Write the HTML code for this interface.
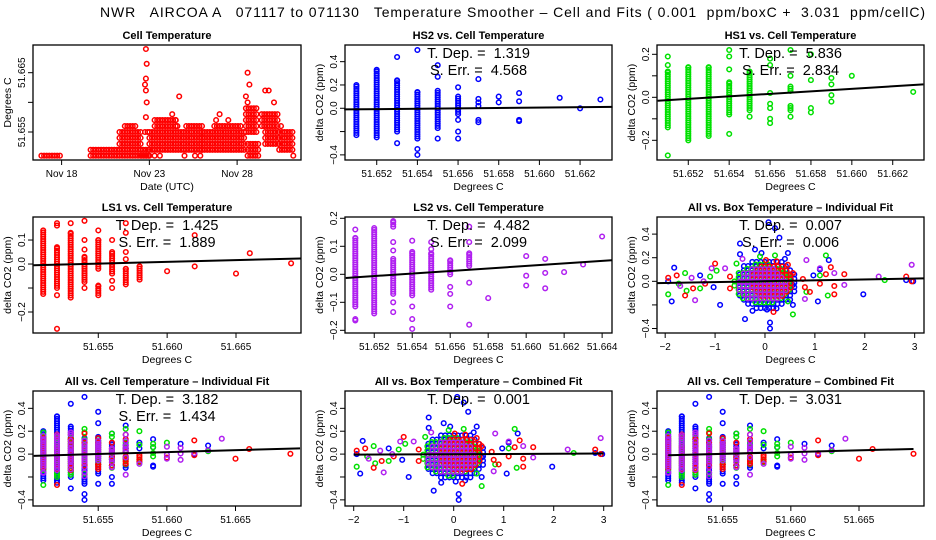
<!DOCTYPE html>
<html><head><meta charset="utf-8"><style>
body{margin:0;background:#fff;}
svg{display:block;font-family:"Liberation Sans",sans-serif;}
</style></head><body>
<svg id="chart" width="936" height="540" viewBox="0 0 936 540">
<rect width="936" height="540" fill="#fff"/>
<text x="100" y="17" font-size="14" textLength="825" lengthAdjust="spacing" style="white-space:pre">NWR   AIRCOA A   071117 to 071130   Temperature Smoother – Cell and Fits ( 0.001  ppm/boxC +  3.031  ppm/cellC)</text>
</svg>
<script>
// ---- Cell temperature data (days from Nov 18, value in deg C) ----
const cellRuns = [[-1.15,0,51.651,51.651],[1.65,5.0,51.651,51.652],[3.3,4.5,51.653,51.655],[3.6,4.3,51.656,51.656],[4.55,5.0,51.651,51.651],[5.0,8.1,51.652,51.655],[5.3,6.5,51.656,51.657],[7.1,8.0,51.656,51.656],[8.0,10.5,51.652,51.655],[8.7,10.3,51.656,51.656],[10.5,11.2,51.655,51.659],[10.6,11.3,51.651,51.653],[11.4,12.4,51.656,51.658],[11.6,12.4,51.653,51.655],[12.4,13.2,51.652,51.655]];
const cellPoints = [[4.8,51.669],[4.85,51.6665],[4.8,51.664],[4.75,51.663],[4.8,51.662],[4.85,51.660],[4.8,51.6575],[4.75,51.655],[4.9,51.655],[6.7,51.661],[6.3,51.658],[6.5,51.657],[6.6,51.656],[9.0,51.658],[9.5,51.657],[8.8,51.657],[10.6,51.665],[10.7,51.663],[10.5,51.661],[10.6,51.660],[11.6,51.662],[11.8,51.662],[12.1,51.660],[12.5,51.656],[5.3,51.651],[5.6,51.651],[7.0,51.651],[7.6,51.651],[7.9,51.651],[13.2,51.651]];
const cellTicks = [0,5,10];
const cellTickLabels = ["Nov 18","Nov 23","Nov 28"];
// ---- Sensor vs cell temperature columns: [x, lo, hi] dense ranges and [x, y] points ----
const hs2Ranges = [[51.651,-0.23,0.2],[51.652,-0.25,0.33],[51.653,-0.2,0.24],[51.654,-0.26,0.14],[51.655,-0.17,0.15],[51.656,-0.05,0.1]];
const hs2Points = [[51.653,-0.3],[51.653,0.44],[51.654,-0.35],[51.654,-0.4],[51.654,0.5],[51.655,0.37],[51.655,0.27],[51.655,-0.26],[51.656,0.18],[51.656,-0.1],[51.656,-0.2],[51.656,-0.26],[51.657,0.25],[51.657,0.08],[51.657,0.05],[51.657,0.02],[51.657,-0.1],[51.657,-0.12],[51.658,0.1],[51.658,0.05],[51.659,0.13],[51.659,0.06],[51.659,-0.1],[51.659,-0.11],[51.661,0.09],[51.662,0.0],[51.663,0.075]];
const hs1Ranges = [[51.651,-0.14,0.12],[51.652,-0.2,0.14],[51.653,-0.18,0.14],[51.654,-0.08,0.07],[51.655,-0.06,0.12],[51.657,-0.06,-0.04],[51.657,0.03,0.05]];
const hs1Points = [[51.651,0.15],[51.651,0.19],[51.651,-0.27],[51.654,-0.17],[51.654,0.13],[51.654,0.19],[51.654,0.22],[51.655,-0.09],[51.656,-0.12],[51.656,-0.1],[51.656,-0.05],[51.656,-0.03],[51.656,0.02],[51.656,0.15],[51.656,0.18],[51.657,-0.09],[51.657,0.1],[51.657,0.22],[51.658,-0.07],[51.658,-0.05],[51.658,0.08],[51.658,0.2],[51.659,-0.02],[51.659,0.01],[51.659,0.06],[51.659,0.09],[51.660,0.1],[51.663,0.025]];
const ls1Ranges = [[51.651,-0.125,0.14],[51.652,-0.1,0.07],[51.653,-0.14,0.13],[51.654,-0.075,0.03],[51.655,-0.13,-0.09],[51.655,-0.02,0.1],[51.656,-0.04,0.05],[51.657,-0.085,-0.02],[51.658,-0.065,-0.01]];
const ls1Points = [[51.652,-0.13],[51.652,0.16],[51.652,0.17],[51.652,-0.27],[51.653,0.17],[51.654,-0.1],[51.654,0.1],[51.654,0.06],[51.654,0.18],[51.655,0.14],[51.656,-0.1],[51.656,-0.07],[51.656,0.1],[51.657,0.02],[51.657,0.05],[51.657,0.13],[51.657,0.17],[51.660,-0.03],[51.662,-0.01],[51.662,0.12],[51.665,-0.04],[51.666,0.045],[51.669,0.003]];
const ls2Ranges = [[51.651,-0.115,0.13],[51.652,-0.14,0.165],[51.653,-0.07,0.055],[51.654,-0.075,0.08],[51.655,-0.055,0.075],[51.656,0,0.05],[51.657,0.03,0.075],[51.653,0.17,0.19]];
const ls2Points = [[51.651,-0.165],[51.651,-0.16],[51.651,0.16],[51.653,-0.135],[51.653,-0.1],[51.653,0.085],[51.653,0.115],[51.654,-0.195],[51.654,-0.16],[51.654,-0.115],[51.654,0.12],[51.655,0.09],[51.655,0.115],[51.656,-0.115],[51.656,-0.07],[51.656,-0.045],[51.657,-0.18],[51.657,-0.03],[51.657,0.115],[51.657,0.17],[51.658,-0.085],[51.660,-0.04],[51.660,-0.005],[51.660,0.065],[51.661,-0.05],[51.661,0.005],[51.661,0.055],[51.662,0.008],[51.663,0.035],[51.664,0.135]];
// ---- Box temperature: clouds [cx, cy, rx, ry] and points [x, y] ----
const boxBlueCloud = [0.03,-0.02,0.62,0.22];
const boxGreenCloud = [-0.05,-0.02,0.58,0.17];
const boxRedCloud = [0.15,0.0,0.45,0.15];
const boxPurpleCloud = [-0.05,-0.03,0.5,0.15];
const boxBluePoints = [[-1.94,0.0],[-1.82,0.115],[-1.87,-0.17],[-0.9,-0.2],[-0.4,-0.32],[-0.5,0.32],[0.07,0.5],[0.29,0.37],[0.2,0.45],[-0.25,-0.25],[0.1,-0.35],[0.1,-0.4],[0.04,-0.24],[0.4,0.19],[0.46,0.24],[0.56,-0.2],[1.97,-0.11],[1.06,-0.17],[1.28,0.18],[2.97,0.0],[2.83,0.01],[-0.5,0.23],[-0.2,0.27],[-0.07,0.24],[-1.3,0.05],[-1.03,-0.05],[0.97,0.05],[1.1,0.1],[0.56,-0.03],[0.23,-0.23]];
const boxGreenPoints = [[-1.94,-0.11],[-1.6,0.07],[-1.73,-0.02],[-1.3,-0.06],[-0.97,0.09],[-0.57,0.15],[-0.1,0.21],[0.2,0.22],[0.46,-0.17],[0.56,-0.28],[1.22,0.22],[1.26,-0.12],[0.83,-0.09],[2.4,0.01],[1.1,0.05],[-0.37,-0.11],[-1.1,0.04],[-1.57,-0.08]];
const boxRedPoints = [[-1.94,0.03],[-1.77,0.05],[-1.6,-0.12],[-1.44,-0.06],[-1.0,0.15],[-0.7,0.04],[-0.7,-0.06],[0.02,0.18],[0.23,0.17],[0.17,-0.26],[0.46,0.14],[0.56,0.07],[0.8,-0.05],[0.9,-0.09],[1.1,-0.02],[1.32,0.12],[1.39,-0.11],[1.59,0.06],[1.39,-0.04],[2.83,0.04],[2.94,0.0],[-1.2,-0.02],[0.76,0.02],[1.22,0.06]];
const boxPurplePoints = [[-1.7,-0.04],[-1.4,-0.16],[-1.47,0.03],[-1.07,0.11],[-0.8,0.11],[-0.45,0.19],[0.83,0.18],[0.8,-0.15],[1.1,0.11],[1.39,0.07],[1.59,-0.03],[2.28,0.04],[2.94,0.14],[-1.23,0.0]];
// ---- Fit lines [x0, y0, x1, y1] ----
const fitHS2 = [51.6504,-0.01,51.6636,0.012];
const fitHS1 = [51.6505,-0.016,51.6635,0.06];
const fitLS1 = [51.6503,-0.005,51.6697,0.023];
const fitLS2 = [51.6505,-0.013,51.6645,0.05];
const fitBoxInd = [-2.16,-0.015,3.18,0.025];
const fitCellInd = [51.6503,-0.015,51.6697,0.05];
const fitBoxComb = [-2.0,-0.005,3.0,0.005];
const fitCellComb = [51.651,-0.01,51.669,0.045];

const SVGNS = "http://www.w3.org/2000/svg";
const svg = document.getElementById('chart');
const BLUE="#0000ff", GREEN="#00e000", RED="#ff0000", PURPLE="#b020f0";
function mk(tag, attrs, parent){const e=document.createElementNS(SVGNS,tag);for(const k in attrs)e.setAttribute(k,attrs[k]);(parent||svg).appendChild(e);return e;}

function panel(c){
  const g=mk('g',{});
  
  
  const [l,t,r,b]=c.box;
  const sx=v=>l+(v-c.xd[0])/(c.xd[1]-c.xd[0])*(r-l);
  const sy=v=>b-(v-c.yd[0])/(c.yd[1]-c.yd[0])*(b-t);
  const plot=mk('g',{},g);
  
  
  c.draw(plot,sx,sy);
  const frame=mk('rect',{x:l,y:t,width:r-l,height:b-t,fill:'none',stroke:'#000','stroke-width':1.3},g);
  
  
  c.xticks.forEach((v,i)=>{
    const x=sx(v);
    mk('line',{x1:x,x2:x,y1:b,y2:b+5,stroke:'#000','stroke-width':1},g);
    if(c.xlabels[i]){const tx=mk('text',{x:x,y:b+17,'text-anchor':'middle','font-size':10},g);tx.textContent=c.xlabels[i];
      
      }
  });
  c.yticks.forEach((v,i)=>{
    const y=sy(v);
    mk('line',{x1:l-5,x2:l,y1:y,y2:y,stroke:'#000','stroke-width':1},g);
    if(c.ylabels[i]){const tx=mk('text',{x:l-8,y:y,'text-anchor':'middle','font-size':10,transform:`rotate(-90 ${l-8} ${y})`},g);tx.textContent=c.ylabels[i];
      
      }
  });
  const ti=mk('text',{x:(l+r)/2,y:t-6,'text-anchor':'middle','font-size':11,'font-weight':'bold'},g);ti.textContent=c.title;
  
  
  const xl=mk('text',{x:(l+r)/2,y:b+30,'text-anchor':'middle','font-size':10.5},g);xl.textContent=c.xlab;
  
  
  const yx=l-22, yy=(t+b)/2;
  const yl=mk('text',{x:yx,y:yy,'text-anchor':'middle','font-size':10.5,transform:`rotate(-90 ${yx} ${yy})`},g);yl.textContent=c.ylab;
  
  
  (c.notes||[]).forEach((s,i)=>{
    const n=mk('text',{x:(l+r)/2,y:t+13+i*17,'text-anchor':'middle','font-size':14.5,style:'white-space:pre'},g);n.textContent=s;
    
    
  });
  if(c.fit){
    const f=c.fit;
    const ln=mk('line',{x1:sx(f[0]),y1:sy(f[1]),x2:sx(f[2]),y2:sy(f[3]),stroke:'#000','stroke-width':2},g);
    
    
  }
}
function dot(p,x,y,col){
  const e=mk('circle',{cx:x.toFixed(1),cy:y.toFixed(1),r:2.3,fill:'none',stroke:col,'stroke-width':1.5},p);
  
  
}
function cols(p,sx,sy,ranges,points,col){
  ranges.forEach(([x,lo,hi])=>{
    const y0=sy(lo), y1=sy(hi);
    for(let y=y0;y>=y1-0.01;y-=2.2) dot(p,sx(x),y,col);
    dot(p,sx(x),y1,col);
  });
  points.forEach(([x,y])=>dot(p,sx(x),sy(y),col));
}
function cloud(p,sx,sy,cl,points,col,off){
  const [cx,cy,rx,ry]=cl;
  const px0=sx(cx), py0=sy(cy), prx=Math.abs(sx(cx+rx)-px0), pry=Math.abs(sy(cy+ry)-py0);
  const st=4.2;
  for(let dy=-pry+off;dy<=pry;dy+=st){
    for(let dx=-prx+off;dx<=prx;dx+=st){
      if((dx*dx)/(prx*prx)+(dy*dy)/(pry*pry)<=1) dot(p,px0+dx,py0+dy,col);
    }
  }
  points.forEach(([x,y])=>dot(p,sx(x),sy(y),col));
}
const cellX=[51.655,51.660,51.665], cellXL=["51.655","51.660","51.665"];
const fineX=[51.652,51.654,51.656,51.658,51.660,51.662], fineXL=["51.652","51.654","51.656","51.658","51.660","51.662"];
const boxX=[-2,-1,0,1,2,3], boxXL=["−2","−1","0","1","2","3"];
const co2Y=[-0.4,-0.2,0,0.2,0.4], co2YL=["−0.4","","0.0","0.2","0.4"];
const DC="Degrees C", YC="delta CO2 (ppm)";

panel({name:'cell-temperature-panel',box:[33,45,301,160],xd:[-1.63,13.64],yd:[51.65028,51.66967],
  xticks:cellTicks,xlabels:cellTickLabels,yticks:[51.655,51.660,51.665],ylabels:["51.655","","51.665"],
  title:'Cell Temperature',xlab:'Date (UTC)',ylab:'Degrees C',
  draw:(p,sx,sy)=>{
    cellRuns.forEach(([d0,d1,lo,hi])=>{
      for(let v=lo;v<=hi+1e-7;v+=0.001) for(let d=d0;d<=d1+1e-7;d+=0.15) dot(p,sx(d),sy(v),RED);
    });
    cellPoints.forEach(([d,v])=>dot(p,sx(d),sy(v),RED));
  }});
panel({name:'hs2-panel',box:[345,45,612,160],xd:[51.65044,51.66357],yd:[-0.444,0.543],
  xticks:fineX,xlabels:fineXL,yticks:co2Y,ylabels:co2YL,title:'HS2 vs. Cell Temperature',xlab:DC,ylab:YC,
  notes:['T. Dep. =  1.319','S. Err. =  4.568'],fit:fitHS2,
  draw:(p,sx,sy)=>cols(p,sx,sy,hs2Ranges,hs2Points,BLUE)});
panel({name:'hs1-panel',box:[657,45,924,160],xd:[51.65047,51.66353],yd:[-0.2916,0.2433],
  xticks:fineX,xlabels:fineXL,yticks:[-0.2,-0.1,0,0.1,0.2],ylabels:["−0.2","","0.0","","0.2"],title:'HS1 vs. Cell Temperature',xlab:DC,ylab:YC,
  notes:['T. Dep. =  5.836','S. Err. =  2.834'],fit:fitHS1,
  draw:(p,sx,sy)=>cols(p,sx,sy,hs1Ranges,hs1Points,GREEN)});
panel({name:'ls1-panel',box:[33,217,301,333],xd:[51.65026,51.66972],yd:[-0.2875,0.196],
  xticks:cellX,xlabels:cellXL,yticks:[-0.2,-0.1,0,0.1],ylabels:["−0.2","","0.0","0.1"],title:'LS1 vs. Cell Temperature',xlab:DC,ylab:YC,
  notes:['T. Dep. =  1.425','S. Err. =  1.889'],fit:fitLS1,
  draw:(p,sx,sy)=>cols(p,sx,sy,ls1Ranges,ls1Points,RED)});
panel({name:'ls2-panel',box:[345,217,612,333],xd:[51.65046,51.66452],yd:[-0.2096,0.2046],
  xticks:[51.652,51.654,51.656,51.658,51.660,51.662,51.664],xlabels:["51.652","51.654","51.656","51.658","51.660","51.662","51.664"],
  yticks:[-0.2,-0.1,0,0.1,0.2],ylabels:["−0.2","−0.1","0.0","0.1","0.2"],title:'LS2 vs. Cell Temperature',xlab:DC,ylab:YC,
  notes:['T. Dep. =  4.482','S. Err. =  2.099'],fit:fitLS2,
  draw:(p,sx,sy)=>cols(p,sx,sy,ls2Ranges,ls2Points,PURPLE)});
function boxDraw(p,sx,sy){
  cloud(p,sx,sy,boxBlueCloud,boxBluePoints,BLUE,0);
  cloud(p,sx,sy,boxGreenCloud,boxGreenPoints,GREEN,1);
  cloud(p,sx,sy,boxRedCloud,boxRedPoints,RED,3);
  cloud(p,sx,sy,boxPurpleCloud,boxPurplePoints,PURPLE,2);
}
function allCols(p,sx,sy){
  cols(p,sx,sy,hs2Ranges,hs2Points,BLUE);
  cols(p,sx,sy,hs1Ranges,hs1Points,GREEN);
  cols(p,sx,sy,ls1Ranges,ls1Points,RED);
  cols(p,sx,sy,ls2Ranges,ls2Points,PURPLE);
}
panel({name:'box-individual-panel',box:[657,217,924,333],xd:[-2.164,3.187],yd:[-0.438,0.545],
  xticks:boxX,xlabels:boxXL,yticks:co2Y,ylabels:co2YL,title:'All vs. Box Temperature – Individual Fit',xlab:DC,ylab:YC,
  notes:['T. Dep. =  0.007','S. Err. =  0.006'],fit:fitBoxInd,draw:boxDraw});
panel({name:'cell-individual-panel',box:[33,391,301,506],xd:[51.65025,51.66977],yd:[-0.4536,0.5515],
  xticks:cellX,xlabels:cellXL,yticks:co2Y,ylabels:co2YL,title:'All vs. Cell Temperature – Individual Fit',xlab:DC,ylab:YC,
  notes:['T. Dep. =  3.182','S. Err. =  1.434'],fit:fitCellInd,draw:allCols});
panel({name:'box-combined-panel',box:[345,391,612,506],xd:[-2.174,3.166],yd:[-0.4536,0.5515],
  xticks:boxX,xlabels:boxXL,yticks:co2Y,ylabels:co2YL,title:'All vs. Box Temperature – Combined Fit',xlab:DC,ylab:YC,
  notes:['T. Dep. =  0.001'],fit:fitBoxComb,draw:boxDraw});
panel({name:'cell-combined-panel',box:[657,391,924,506],xd:[51.65018,51.66977],yd:[-0.4536,0.5515],
  xticks:cellX,xlabels:cellXL,yticks:co2Y,ylabels:co2YL,title:'All vs. Cell Temperature – Combined Fit',xlab:DC,ylab:YC,
  notes:['T. Dep. =  3.031'],fit:fitCellComb,draw:allCols});
</script>
</body></html>
